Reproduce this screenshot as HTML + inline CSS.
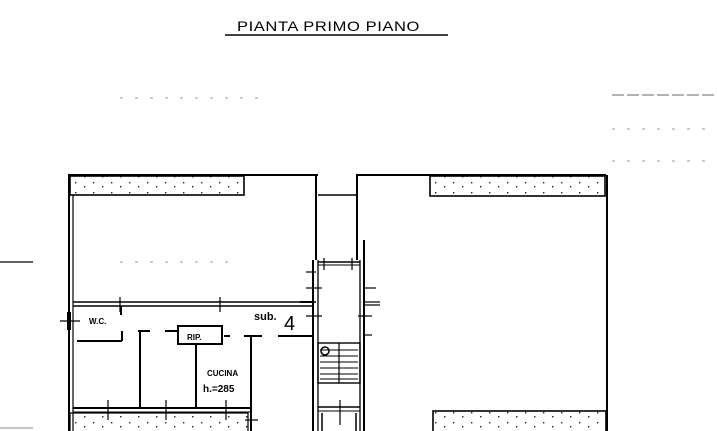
<!DOCTYPE html>
<html><head><meta charset="utf-8"><style>
html,body{margin:0;padding:0;background:#fff;}
svg{display:block;}
text{font-family:"Liberation Sans",sans-serif;fill:#000;}
</style></head><body>
<svg width="717" height="431" viewBox="0 0 717 431" xmlns="http://www.w3.org/2000/svg">
<defs>
<pattern id="dots" width="18" height="10" patternUnits="userSpaceOnUse">
<rect x="3" y="2" width="1.4" height="1.4" fill="#222"/>
<rect x="12" y="6" width="1.4" height="1.4" fill="#222"/>
</pattern>
</defs>
<!-- title -->
<text x="237" y="31" font-size="14" letter-spacing="0.5" textLength="183" lengthAdjust="spacingAndGlyphs">PIANTA PRIMO PIANO</text>
<line x1="225" y1="35" x2="448" y2="35" stroke="#000" stroke-width="1.6"/>

<!-- faint dashes -->
<g stroke="#999" stroke-width="1" stroke-dasharray="3 12">
<line x1="120" y1="98" x2="265" y2="98"/>
<line x1="612" y1="95" x2="717" y2="95" stroke="#666" stroke-dasharray="12 3"/>
<line x1="612" y1="129" x2="717" y2="129"/>
<line x1="612" y1="161" x2="717" y2="161"/>
<line x1="120" y1="262" x2="230" y2="262"/>
</g>
<line x1="0" y1="262" x2="33" y2="262" stroke="#000" stroke-width="1.2"/>
<line x1="0" y1="428" x2="33" y2="428" stroke="#888" stroke-width="1"/>

<g stroke="#000" fill="none" stroke-width="2">
<line x1="68" y1="175" x2="318" y2="175"/>
<line x1="69" y1="175" x2="69" y2="431"/>
<line x1="73" y1="195" x2="73" y2="431" stroke-width="1.2"/>
<line x1="316" y1="175" x2="316" y2="260"/>
<rect x="70" y="176" width="174" height="19" fill="url(#dots)" stroke-width="1.6"/>
<line x1="318" y1="195" x2="357" y2="195" stroke-width="1.5"/>
<line x1="357" y1="175" x2="357" y2="260"/>
<line x1="73" y1="302" x2="316" y2="302" stroke-width="1.6"/>
<line x1="73" y1="306" x2="313" y2="306" stroke-width="1.6"/>
<line x1="313" y1="260" x2="313" y2="431"/>
<line x1="318" y1="260" x2="318" y2="431" stroke-width="1.3"/>
<line x1="360" y1="260" x2="360" y2="431" stroke-width="1.3"/>
<line x1="364" y1="240" x2="364" y2="431"/>
<line x1="318" y1="262" x2="360" y2="262" stroke-width="1.5"/>
<line x1="318" y1="265" x2="360" y2="265" stroke-width="1"/>
<line x1="364" y1="302" x2="380" y2="302" stroke-width="1.2"/>
<line x1="364" y1="305" x2="380" y2="305" stroke-width="1.2"/>
<line x1="300" y1="302" x2="313" y2="302"/>
<line x1="77" y1="341" x2="122" y2="341"/>
<line x1="122" y1="331" x2="122" y2="341"/>
<line x1="121" y1="306" x2="121" y2="315"/>
<line x1="140" y1="331" x2="140" y2="408"/>
<line x1="138" y1="331" x2="150" y2="331"/>
<line x1="165" y1="331" x2="178" y2="331"/>
<rect x="178" y="326" width="44" height="18"/>
<line x1="196" y1="344" x2="196" y2="408"/>
<line x1="244" y1="336" x2="262" y2="336"/>
<line x1="251" y1="336" x2="251" y2="431"/>
<line x1="278" y1="336" x2="313" y2="336"/>
<line x1="224" y1="336" x2="230" y2="336"/>
<line x1="73" y1="408" x2="251" y2="408"/>
<line x1="73" y1="412" x2="251" y2="412" stroke-width="1"/>
<rect x="70" y="413" width="178" height="20" fill="url(#dots)" stroke-width="1.2"/>
<rect x="318" y="343" width="42" height="40" stroke-width="1.4"/>
<line x1="339" y1="343" x2="339" y2="383" stroke-width="1.2"/>
<line x1="318" y1="407" x2="360" y2="407" stroke-width="1.5"/>
<line x1="318" y1="411" x2="360" y2="411" stroke-width="1"/>
<line x1="322" y1="413" x2="322" y2="431" stroke-width="1.5"/>
<line x1="356" y1="413" x2="356" y2="431" stroke-width="1.5"/>
<line x1="356" y1="175" x2="606" y2="175"/>
<line x1="607" y1="175" x2="607" y2="431"/>
<rect x="430" y="176" width="175" height="20" fill="url(#dots)" stroke-width="1.6"/>
<rect x="433" y="411" width="173" height="22" fill="url(#dots)" stroke-width="1.6"/>
</g>
<g stroke="#000" stroke-width="1">
<line x1="320" y1="350" x2="358" y2="350"/><line x1="320" y1="356" x2="358" y2="356"/>
<line x1="320" y1="362" x2="358" y2="362"/><line x1="320" y1="368" x2="358" y2="368"/>
<line x1="320" y1="374" x2="358" y2="374"/><line x1="320" y1="379" x2="358" y2="379"/>
</g>
<circle cx="325" cy="351" r="4" fill="none" stroke="#000" stroke-width="1.5"/>
<g stroke="#000" stroke-width="1.2">
<line x1="60" y1="321" x2="80" y2="321"/><line x1="69" y1="312" x2="69" y2="330" stroke-width="4"/>
<line x1="120" y1="297" x2="120" y2="312"/><line x1="220" y1="297" x2="220" y2="312"/>
<line x1="306" y1="272" x2="316" y2="272"/><line x1="306" y1="288" x2="322" y2="288"/>
<line x1="306" y1="316" x2="322" y2="316"/><line x1="364" y1="288" x2="376" y2="288"/>
<line x1="358" y1="316" x2="372" y2="316"/><line x1="364" y1="335" x2="372" y2="335"/>
<line x1="324" y1="258" x2="324" y2="270"/><line x1="352" y1="258" x2="352" y2="270"/>
<line x1="108" y1="400" x2="108" y2="420"/><line x1="166" y1="400" x2="166" y2="420"/>
<line x1="226" y1="400" x2="226" y2="420"/><line x1="340" y1="400" x2="340" y2="425"/>
<line x1="245" y1="420" x2="258" y2="420"/>
</g>
<text x="89" y="324" font-size="8" font-weight="bold">W.C.</text>
<text x="187" y="340" font-size="8" font-weight="bold">RIP.</text>
<text x="254" y="320" font-size="11" font-weight="bold">sub.</text>
<text x="284" y="330" font-size="20">4</text>
<text x="207" y="376" font-size="8" font-weight="bold">CUCINA</text>
<text x="203" y="392" font-size="10" font-weight="bold">h.=285</text>
</svg>
</body></html>
